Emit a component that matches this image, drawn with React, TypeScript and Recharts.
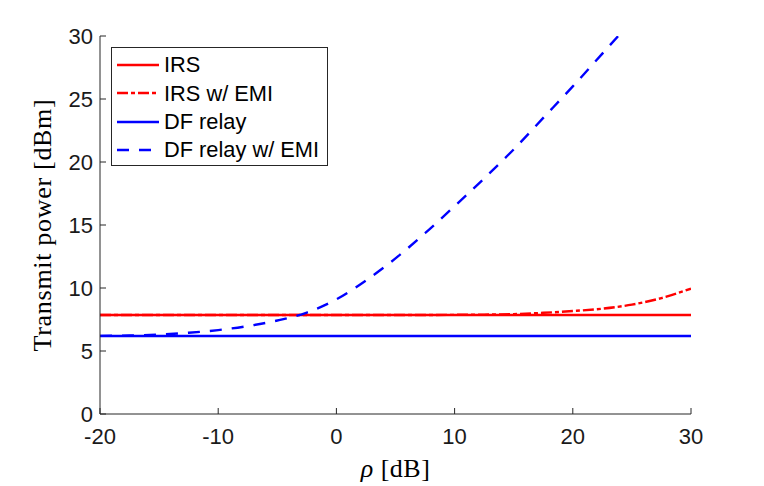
import { LineChart, Line, XAxis, YAxis, Label } from 'recharts';

const rho = [-20, -17.5, -15, -12.5, -10, -7.5, -5, -2.5, 0, 2.5, 5, 7.5, 10, 12.5, 15, 17.5, 20, 22.5, 25, 27.5, 30];
const irs = [7.86, 7.86, 7.86, 7.86, 7.86, 7.86, 7.86, 7.86, 7.86, 7.86, 7.86, 7.86, 7.86, 7.86, 7.86, 7.86, 7.86, 7.86, 7.86, 7.86, 7.86];
const irsEmi = [7.86, 7.86, 7.86, 7.86, 7.86, 7.86, 7.86, 7.86, 7.86, 7.86, 7.86, 7.86, 7.87, 7.89, 7.93, 8.03, 8.17, 8.36, 8.68, 9.2, 9.95];
const dfRelay = [6.19, 6.19, 6.19, 6.19, 6.19, 6.19, 6.19, 6.19, 6.19, 6.19, 6.19, 6.19, 6.19, 6.19, 6.19, 6.19, 6.19, 6.19, 6.19, 6.19, 6.19];
const dfRelayEmi = [6.2, 6.23, 6.3, 6.45, 6.66, 6.98, 7.42, 8.05, 9.1, 10.6, 12.35, 14.35, 16.5, 18.7, 21.0, 23.5, 26.0, 28.6, 31.2, 33.8, 36.4];

const xTicks = [-20, -10, 0, 10, 20, 30];
const yTicks = [0, 5, 10, 15, 20, 25, 30];

const data = rho.map((r, i) => ({
  rho: r,
  irs: irs[i],
  irsEmi: irsEmi[i],
  df: dfRelay[i],
  dfEmi: dfRelayEmi[i],
}));

const series = [
  { key: 'irs', name: 'IRS', color: '#ff0000', dash: undefined },
  { key: 'irsEmi', name: 'IRS w/ EMI', color: '#ff0000', dash: '11 3 4 3' },
  { key: 'df', name: 'DF relay', color: '#0000ff', dash: undefined },
  { key: 'dfEmi', name: 'DF relay w/ EMI', color: '#0000ff', dash: '12 10' },
];

const AXIS = '#262626';
const SANS = '"Liberation Sans", Arial, Helvetica, sans-serif';
const SERIF = '"Liberation Serif", "Times New Roman", serif';
const tickStyle = { fill: '#1a1a1a', fontSize: 22, fontFamily: SANS };
const LINE_W = 2.4;

// legend drawn outside recharts so it does not shrink the plot area
const LegendBox = () => (
  <div
    style={{
      position: 'absolute',
      left: 111,
      top: 47,
      border: `1px solid ${AXIS}`,
      background: '#fff',
      width: 215,
      height: 114,
      paddingTop: 3,
      fontFamily: SANS,
      fontSize: 21.8,
      color: '#000',
    }}
  >
    {series.map((s) => (
      <div key={s.key} style={{ display: 'flex', alignItems: 'center', height: 28.3 }}>
        <svg width={52} height={10} style={{ flex: 'none' }}>
          <line x1={5} x2={47} y1={5} y2={5} stroke={s.color} strokeWidth={LINE_W} strokeDasharray={s.dash} />
        </svg>
        <span style={{ whiteSpace: 'nowrap', lineHeight: 1 }}>{s.name}</span>
      </div>
    ))}
  </div>
);

export default function App() {
  return (
    <div style={{ position: 'absolute', left: 0, top: 0, width: 764, height: 486, background: '#fff' }}>
      <LineChart width={764} height={486} data={data} margin={{ top: 36, right: 73, bottom: 32, left: 40 }}>
        <XAxis
          dataKey="rho"
          type="number"
          domain={[-20, 30]}
          ticks={xTicks}
          height={40}
          stroke={AXIS}
          tickSize={-6}
          tickMargin={20}
          tick={tickStyle}
          allowDataOverflow
        >
          <Label
            content={({ viewBox }: any) => (
              <text
                x={viewBox.x + viewBox.width / 2}
                y={viewBox.y + 63}
                textAnchor="middle"
                fontFamily={SERIF}
                fontSize={26}
                letterSpacing={0.5}
                fill="#000"
              >
                <tspan fontStyle="italic">ρ</tspan> [dB]
              </text>
            )}
          />
        </XAxis>
        <XAxis xAxisId="top" orientation="top" type="number" domain={[-20, 30]} ticks={xTicks} height={0} stroke={AXIS} tickSize={-6} tick={false} />
        <YAxis
          type="number"
          domain={[0, 30]}
          ticks={yTicks}
          width={60}
          stroke={AXIS}
          tickSize={-6}
          tickMargin={13}
          tick={tickStyle}
          allowDataOverflow
        >
          <Label
            content={({ viewBox }: any) => (
              <text
                x={42}
                y={viewBox.y + viewBox.height / 2}
                textAnchor="middle"
                dominantBaseline="central"
                transform={`rotate(-90 42 ${viewBox.y + viewBox.height / 2})`}
                fontFamily={SERIF}
                fontSize={26}
                letterSpacing={0.7}
                fill="#000"
              >
                Transmit power [dBm]
              </text>
            )}
          />
        </YAxis>
        <YAxis yAxisId="right" orientation="right" type="number" domain={[0, 30]} ticks={yTicks} width={0} stroke={AXIS} tickSize={-6} tick={false} />
        {series.map((s) => (
          <Line
            key={s.key}
            dataKey={s.key}
            name={s.name}
            type="monotone"
            stroke={s.color}
            strokeWidth={LINE_W}
            strokeDasharray={s.dash}
            dot={false}
            activeDot={false}
            isAnimationActive={false}
          />
        ))}
      </LineChart>
      <LegendBox />
    </div>
  );
}
